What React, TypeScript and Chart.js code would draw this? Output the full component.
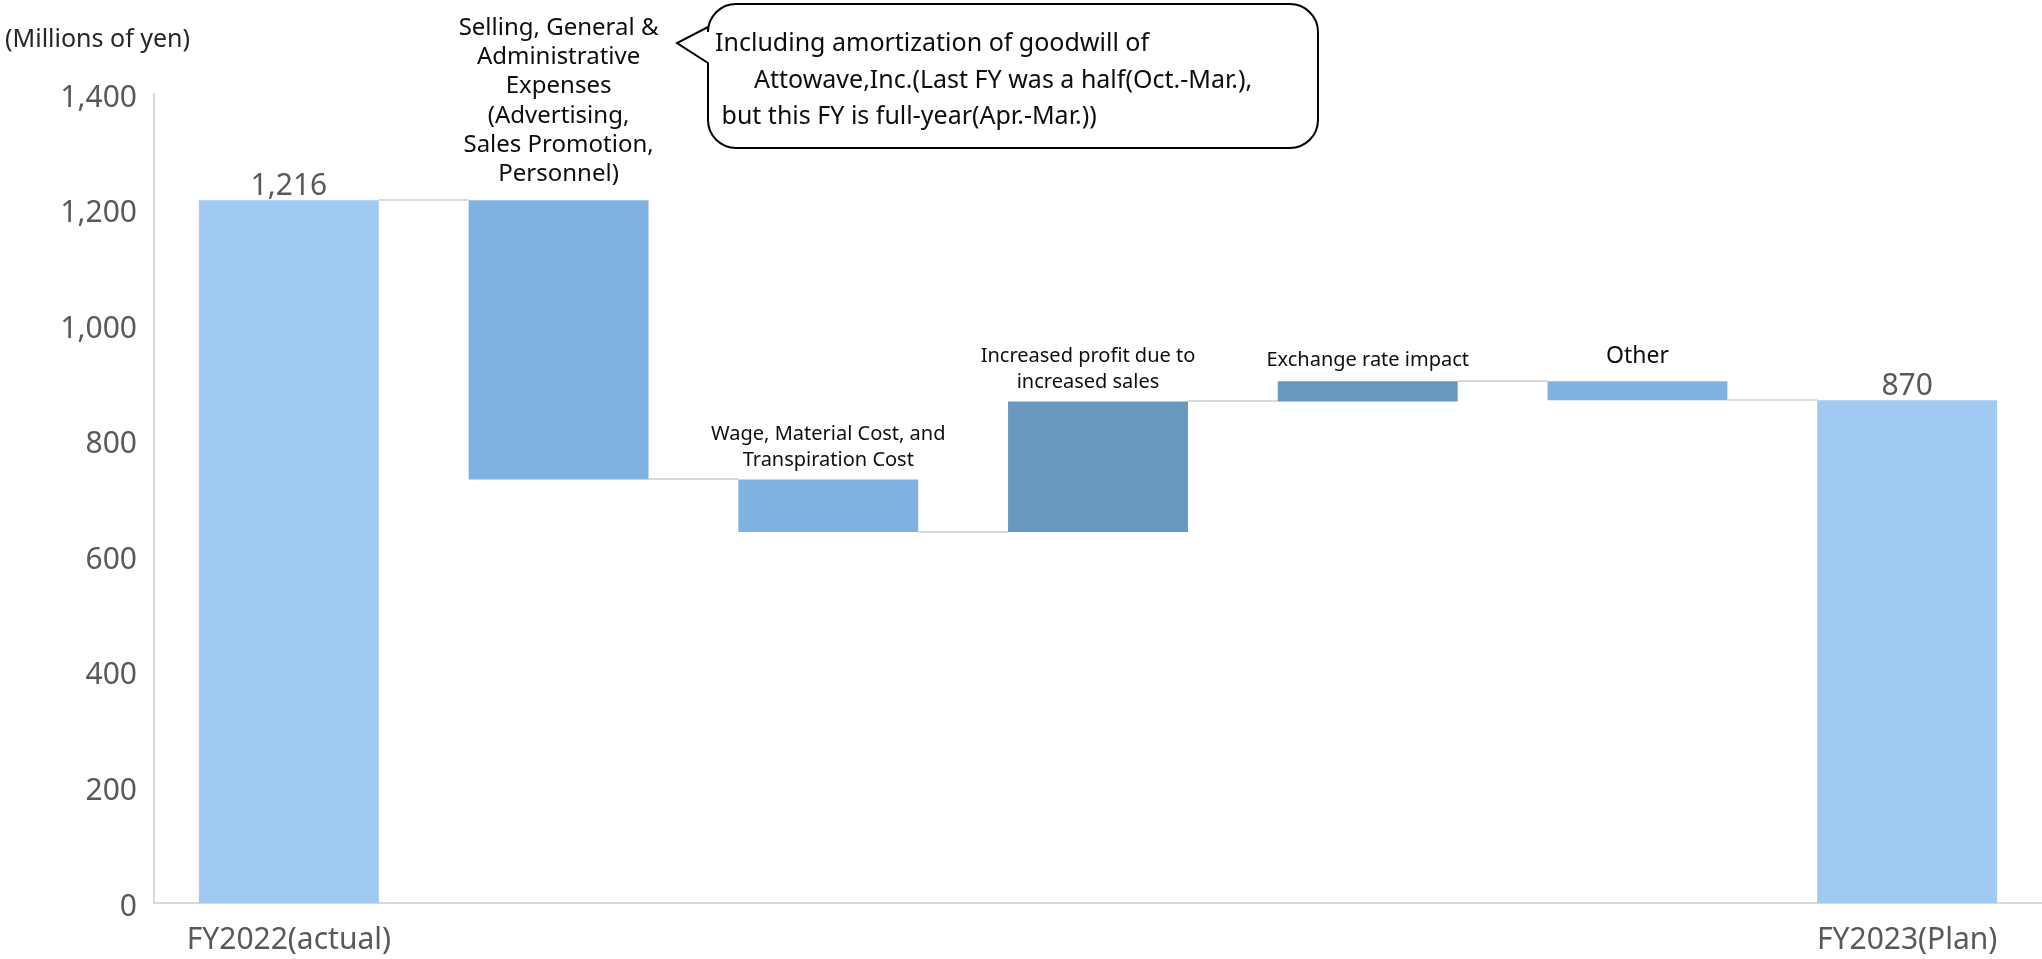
import React, { useEffect, useRef } from "react";
import { Chart, registerables } from "chart.js";

Chart.register(...registerables);

// ---- data ----
const categories = ["FY2022(actual)", "", "", "", "", "", "FY2023(Plan)"];
const stepNames: string[][] = [
  [],
  ["Selling, General &", "Administrative", "Expenses", "(Advertising,", "Sales Promotion,", "Personnel)"],
  ["Wage, Material Cost, and", "Transpiration Cost"],
  ["Increased profit due to", "increased sales"],
  ["Exchange rate impact"],
  ["Other"],
  [],
];
const startValue = 1216;
const changes = [-483, -91, 226, 35, -33];
const endValue = 870;
const barColors = ["#A0CAF2", "#7FB2E0", "#7FB2E0", "#6897BF", "#6897BF", "#7FB2E0", "#A0CAF2"];
const yMin = 0;
const yMax = 1400;
const yStep = 200;
const unitLabel = "(Millions of yen)";
const noteLines = [
  "Including amortization of goodwill of",
  "      Attowave,Inc.(Last FY was a half(Oct.-Mar.),",
  " but this FY is full-year(Apr.-Mar.))",
];

// build floating ranges
const levels: number[] = [startValue];
const ranges: [number, number][] = [[0, startValue]];
{
  let level = startValue;
  for (const c of changes) {
    const next = level + c;
    ranges.push([Math.min(level, next), Math.max(level, next)]);
    level = next;
    levels.push(level);
  }
  ranges.push([0, endValue]);
}

const FONT = "'Noto Sans', 'DejaVu Sans', sans-serif";
const fmt = (v: number) => v.toLocaleString("en-US");

const overlayPlugin = {
  id: "waterfallOverlay",
  beforeDatasetsDraw(chart: any) {
    const ctx = chart.ctx;
    const meta = chart.getDatasetMeta(0);
    const y = chart.scales.y;
    ctx.save();
    ctx.strokeStyle = "#D9D9D9";
    ctx.lineWidth = 2;
    for (let i = 0; i < meta.data.length - 1; i++) {
      const a = meta.data[i];
      const b = meta.data[i + 1];
      const py = Math.round(y.getPixelForValue(levels[i]));
      ctx.beginPath();
      ctx.moveTo(a.x + a.width / 2, py);
      ctx.lineTo(b.x - b.width / 2, py);
      ctx.stroke();
    }
    ctx.restore();
  },
  afterDatasetsDraw(chart: any) {
    const ctx = chart.ctx;
    const meta = chart.getDatasetMeta(0);
    const y = chart.scales.y;
    ctx.save();
    // value labels for totals
    ctx.fillStyle = "#595959";
    ctx.font = `30px ${FONT}`;
    ctx.textAlign = "center";
    ctx.textBaseline = "middle";
    [0, meta.data.length - 1].forEach((i) => {
      const el = meta.data[i];
      const top = y.getPixelForValue(ranges[i][1]);
      ctx.fillText(fmt(ranges[i][1]), el.x, top - 14);
    });
    // step labels
    ctx.fillStyle = "#0D0D0D";
    stepNames.forEach((lines, i) => {
      if (!lines.length) return;
      const el = meta.data[i];
      const top = y.getPixelForValue(ranges[i][1]);
      let size = 20;
      let lh = 26.5;
      let gap = 19;
      let dx = 0;
      if (i === 1) { size = 24; lh = 29.3; gap = 26; }
      if (i === 3) { dx = -10; }
      if (i === 4) { gap = 21; }
      if (i === 5) { size = 23; lh = 28; gap = 25; }
      ctx.font = `${size}px ${FONT}`;
      const n = lines.length;
      lines.forEach((t, k) => {
        ctx.fillText(t, el.x + dx, top - gap - (n - 1 - k) * lh);
      });
    });

    // unit label
    ctx.fillStyle = "#262626";
    ctx.font = `25px ${FONT}`;
    ctx.textAlign = "left";
    ctx.fillText(unitLabel, 5, 40);

    // callout bubble
    const bx = 708, by = 4, bw = 610, bh = 144, r = 28;
    ctx.beginPath();
    ctx.moveTo(bx + r, by);
    ctx.lineTo(bx + bw - r, by);
    ctx.arcTo(bx + bw, by, bx + bw, by + r, r);
    ctx.lineTo(bx + bw, by + bh - r);
    ctx.arcTo(bx + bw, by + bh, bx + bw - r, by + bh, r);
    ctx.lineTo(bx + r, by + bh);
    ctx.arcTo(bx, by + bh, bx, by + bh - r, r);
    ctx.lineTo(bx, 63);
    ctx.lineTo(677, 43);
    ctx.lineTo(bx, 27);
    ctx.lineTo(bx, by + r);
    ctx.arcTo(bx, by, bx + r, by, r);
    ctx.closePath();
    ctx.fillStyle = "#FFFFFF";
    ctx.fill();
    ctx.strokeStyle = "#000000";
    ctx.lineWidth = 2;
    ctx.stroke();
    ctx.fillStyle = "#0D0D0D";
    ctx.font = `25px ${FONT}`;
    ctx.textAlign = "left";
    ctx.textBaseline = "middle";
    noteLines.forEach((t, k) => ctx.fillText(t, 715, 44 + k * 36.5));
    ctx.restore();
  },
};

export default function App() {
  const ref = useRef<HTMLCanvasElement | null>(null);
  useEffect(() => {
    if (!ref.current) return;
    const chart = new Chart(ref.current, {
      type: "bar",
      data: {
        labels: categories,
        datasets: [
          {
            data: ranges as any,
            backgroundColor: barColors,
            borderWidth: 0,
            categoryPercentage: 1,
            barPercentage: 0.667,
          },
        ],
      },
      options: {
        responsive: false,
        animation: false,
        layout: { padding: { top: 94, left: 0, right: 0, bottom: 0 } },
        plugins: { legend: { display: false }, tooltip: { enabled: false } },
        scales: {
          x: {
            grid: { display: false, drawTicks: false },
            border: { display: true, color: "#D9D9D9", width: 2 },
            ticks: {
              color: "#595959",
              font: { family: FONT, size: 30 },
              padding: 19,
              maxRotation: 0,
              autoSkip: false,
            },
            afterFit: (s: any) => { s.height = 56; },
          },
          y: {
            min: yMin,
            max: yMax,
            grid: { display: false, drawTicks: false },
            border: { display: true, color: "#D9D9D9", width: 2 },
            ticks: {
              stepSize: yStep,
              color: "#595959",
              font: { family: FONT, size: 30 },
              padding: 17,
              labelOffset: 4,
              callback: (v: any) => fmt(Number(v)),
            },
            afterFit: (s: any) => { s.width = 154; },
          },
        },
      },
      plugins: [overlayPlugin],
    });
    return () => chart.destroy();
  }, []);
  return (
    <div style={{ position: "absolute", left: 0, top: 0, width: 2042, height: 959, background: "#fff" }}>
      <canvas ref={ref} width={2042} height={959} style={{ display: "block" }} />
    </div>
  );
}
